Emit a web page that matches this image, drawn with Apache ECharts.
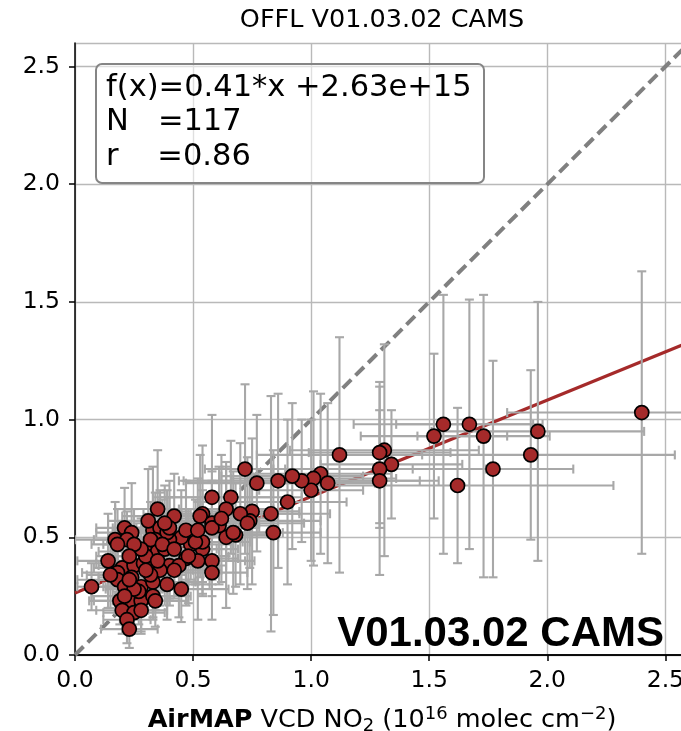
<!DOCTYPE html>
<html>
<head>
<meta charset="utf-8">
<style>
  html, body { margin: 0; padding: 0; background: #fff; }
  #chart { width: 681px; height: 731px; }
</style>
<script src="https://cdn.jsdelivr.net/npm/echarts@6/dist/echarts.min.js"></script>
</head>
<body>
<div id="chart"></div>
<script>
// AirMAP vs TROPOMI OFFL (CAMS) NO2 columns, units 1e16 molec cm-2
const airmapX = [
  2.40, 1.56, 1.67, 1.52, 1.73, 1.96, 1.93, 1.77, 1.62, 1.12,
  1.31, 1.29, 1.34, 1.29, 1.29, 1.04, 1.01, 1.07, 1.00, 0.96,
  0.92, 0.86, 0.90, 0.72, 0.77, 0.84, 0.83, 0.75, 0.74, 0.70,
  0.68, 0.64, 0.66, 0.58, 0.64, 0.54, 0.53, 0.58, 0.61, 0.54,
  0.54, 0.49, 0.45, 0.40, 0.36, 0.47, 0.52, 0.58, 0.58, 0.40,
  0.44, 0.39, 0.45, 0.42, 0.35, 0.21, 0.24, 0.17, 0.22, 0.33,
  0.36, 0.39, 0.34, 0.30, 0.35, 0.38, 0.14, 0.20, 0.25, 0.29,
  0.34, 0.36, 0.42, 0.18, 0.18, 0.24, 0.21, 0.28, 0.33, 0.07,
  0.19, 0.23, 0.28, 0.33, 0.20, 0.25, 0.22, 0.23, 0.32, 0.30,
  0.28, 0.37, 0.31, 0.40, 0.25, 0.32, 0.27, 0.30, 0.48, 0.51,
  0.42, 0.35, 0.23, 0.15, 0.25, 0.21, 0.28, 0.47, 0.58, 0.73,
  0.67, 0.38, 0.18, 0.52, 0.23, 0.34, 0.62
];
const tropomiY = [
  1.03, 0.98, 0.98, 0.93, 0.93, 0.95, 0.85, 0.79, 0.72, 0.85,
  0.87, 0.86, 0.81, 0.79, 0.74, 0.77, 0.75, 0.73, 0.70, 0.74,
  0.76, 0.74, 0.65, 0.79, 0.73, 0.52, 0.60, 0.61, 0.57, 0.60,
  0.51, 0.50, 0.67, 0.67, 0.62, 0.60, 0.59, 0.56, 0.55, 0.45,
  0.48, 0.47, 0.50, 0.49, 0.52, 0.41, 0.40, 0.40, 0.35, 0.38,
  0.38, 0.30, 0.28, 0.59, 0.62, 0.54, 0.52, 0.49, 0.49, 0.53,
  0.54, 0.52, 0.49, 0.44, 0.44, 0.45, 0.40, 0.37, 0.38, 0.39,
  0.39, 0.36, 0.36, 0.35, 0.32, 0.33, 0.29, 0.29, 0.31, 0.29,
  0.23, 0.23, 0.23, 0.25, 0.19, 0.18, 0.15, 0.11, 0.49, 0.42,
  0.45, 0.47, 0.57, 0.54, 0.47, 0.34, 0.27, 0.36, 0.42, 0.48,
  0.45, 0.40, 0.42, 0.34, 0.28, 0.25, 0.19, 0.53, 0.54, 0.56,
  0.52, 0.56, 0.47, 0.53, 0.32, 0.23, 0.58
];
const airmapErr = [
  0.57, 0.38, 0.31, 0.31, 0.28, 0.45, 0.61, 0.34, 0.66, 0.35,
  0.40, 0.30, 0.30, 0.45, 0.25, 0.30, 0.35, 0.20, 0.22, 0.50,
  0.30, 0.42, 0.25, 0.17, 0.30, 0.20, 0.25, 0.20, 0.30, 0.25,
  0.18, 0.22, 0.30, 0.25, 0.20, 0.25, 0.20, 0.20, 0.25, 0.15,
  0.20, 0.18, 0.20, 0.15, 0.20, 0.22, 0.20, 0.18, 0.15, 0.15,
  0.20, 0.18, 0.20, 0.22, 0.18, 0.12, 0.15, 0.17, 0.14, 0.16,
  0.20, 0.12, 0.17, 0.20, 0.15, 0.22, 0.13, 0.12, 0.15, 0.20,
  0.16, 0.14, 0.20, 0.15, 0.17, 0.14, 0.12, 0.16, 0.18, 0.06,
  0.13, 0.15, 0.12, 0.16, 0.11, 0.13, 0.10, 0.12, 0.18, 0.14,
  0.12, 0.16, 0.17, 0.14, 0.13, 0.15, 0.11, 0.13, 0.17, 0.20,
  0.16, 0.12, 0.14, 0.10, 0.12, 0.14, 0.11, 0.19, 0.20, 0.24,
  0.21, 0.13, 0.11, 0.18, 0.13, 0.14, 0.22
];
const tropomiErr = [
  0.60, 0.55, 0.53, 0.35, 0.60, 0.55, 0.36, 0.46, 0.33, 0.50,
  0.45, 0.30, 0.23, 0.25, 0.40, 0.34, 0.37, 0.34, 0.30, 0.26,
  0.31, 0.37, 0.35, 0.36, 0.29, 0.35, 0.50, 0.31, 0.20, 0.30,
  0.22, 0.30, 0.24, 0.35, 0.20, 0.29, 0.26, 0.18, 0.25, 0.20,
  0.22, 0.15, 0.20, 0.25, 0.18, 0.20, 0.25, 0.15, 0.20, 0.17,
  0.22, 0.15, 0.14, 0.18, 0.25, 0.17, 0.21, 0.16, 0.12, 0.27,
  0.15, 0.18, 0.20, 0.12, 0.16, 0.14, 0.20, 0.16, 0.14, 0.18,
  0.20, 0.15, 0.12, 0.12, 0.14, 0.11, 0.16, 0.12, 0.15, 0.10,
  0.10, 0.12, 0.13, 0.10, 0.10, 0.09, 0.10, 0.08, 0.16, 0.17,
  0.13, 0.19, 0.22, 0.13, 0.15, 0.12, 0.14, 0.17, 0.20, 0.18,
  0.15, 0.13, 0.12, 0.14, 0.12, 0.11, 0.10, 0.21, 0.24, 0.28,
  0.26, 0.16, 0.15, 0.22, 0.12, 0.11, 0.27
];

// Linear fit (f(x) = a*x + b, b in 1e16 units) and statistics
const fitSlope = 0.41;
const fitIntercept = 0.263;
const statLines = ['f(x)=0.41*x +2.63e+15', 'N   =117', 'r    =0.86'];
const axisMax = 2.6;
const tickStep = 0.5;

const pointColor = '#a52a2a';
const errColor = '#a8a8a8';

const chart = echarts.init(document.getElementById('chart'), null, { renderer: 'canvas' });

const errData = airmapX.map((x, i) => [x, tropomiY[i], airmapErr[i], tropomiErr[i]]);
const scatterData = airmapX.map((x, i) => [x, tropomiY[i]]);

function renderErrorBar(params, api) {
  const x = api.value(0), y = api.value(1);
  const ex = api.value(2), ey = api.value(3);
  const c = api.coord([x, y]);
  const l = api.coord([x - ex, y]);
  const r = api.coord([x + ex, y]);
  const t = api.coord([x, y + ey]);
  const b = api.coord([x, y - ey]);
  const cap = 4.5;
  const style = { stroke: errColor, lineWidth: 2.1, fill: null };
  const seg = (x1, y1, x2, y2) => ({ type: 'line', shape: { x1, y1, x2, y2 }, style });
  return {
    type: 'group',
    children: [
      seg(l[0], c[1], r[0], c[1]),
      seg(c[0], t[1], c[0], b[1]),
      seg(l[0], c[1] - cap, l[0], c[1] + cap),
      seg(r[0], c[1] - cap, r[0], c[1] + cap),
      seg(c[0] - cap, t[1], c[0] + cap, t[1]),
      seg(c[0] - cap, b[1], c[0] + cap, b[1])
    ]
  };
}

const tickFont = { fontFamily: 'DejaVu Sans', fontSize: 23.5, color: '#000' };

const option = {
  animation: false,
  backgroundColor: '#fff',
  grid: { left: 75, top: 43, right: -8, bottom: 76, containLabel: false, outerBoundsMode: 'none' },
  xAxis: [{
    type: 'value', min: 0, max: axisMax, interval: tickStep,
    axisLine: { show: true, onZero: false, lineStyle: { color: '#000', width: 1.5 } },
    axisTick: { show: true, length: 6, lineStyle: { color: '#000', width: 1.5 } },
    axisLabel: Object.assign({ margin: 14, formatter: v => v.toFixed(1), showMaxLabel: false }, tickFont),
    splitLine: { show: true, lineStyle: { color: '#b9b9b9', width: 1.4 } },
    name: '{b|AirMAP} VCD NO{sub|2} (10{sup|16} molec cm{sup|\u22122})',
    nameLocation: 'middle',
    nameGap: 50,
    nameTextStyle: {
      fontFamily: 'DejaVu Sans', fontSize: 25.5, color: '#000',
      rich: {
        b: { fontFamily: 'DejaVu Sans', fontWeight: 'bold', fontSize: 25.5, color: '#000' },
        sub: { fontFamily: 'DejaVu Sans', fontSize: 18, color: '#000', padding: [12, 0, 0, 0] },
        sup: { fontFamily: 'DejaVu Sans', fontSize: 18, color: '#000', padding: [0, 0, 12, 0] }
      }
    }
  }, {
    type: 'value', min: 0, max: axisMax, position: 'top',
    axisLine: { show: true, lineStyle: { color: '#000', width: 1.5 } },
    axisTick: { show: false }, axisLabel: { show: false }, splitLine: { show: false }
  }],
  yAxis: {
    type: 'value', min: 0, max: axisMax, interval: tickStep,
    axisLine: { show: true, onZero: false, lineStyle: { color: '#000', width: 1.5 } },
    axisTick: { show: true, length: 6, lineStyle: { color: '#000', width: 1.5 } },
    axisLabel: Object.assign({ margin: 15, formatter: v => v.toFixed(1), showMaxLabel: false }, tickFont),
    splitLine: { show: true, lineStyle: { color: '#b9b9b9', width: 1.4 } }
  },
  series: [
    {
      name: '1:1', type: 'line', silent: true, symbol: 'none', z: 2,
      data: [[0, 0], [axisMax, axisMax]],
      lineStyle: { color: '#808080', width: 4, type: [12, 6] }
    },
    {
      name: 'fit', type: 'line', silent: true, symbol: 'none', z: 2,
      data: [[0, fitIntercept], [axisMax, fitSlope * axisMax + fitIntercept]],
      lineStyle: { color: pointColor, width: 3.2 }
    },
    {
      name: 'errors', type: 'custom', z: 3, clip: true,
      renderItem: renderErrorBar,
      data: errData
    },
    {
      name: 'points', type: 'scatter', z: 4,
      symbolSize: 14,
      itemStyle: { color: pointColor, borderColor: '#000', borderWidth: 1.7, opacity: 1 },
      data: scatterData
    }
  ],
  graphic: [
    {
      type: 'text', x: 382, y: 7,
      style: { text: 'OFFL V01.03.02 CAMS', font: '25.5px "DejaVu Sans"', fill: '#000', textAlign: 'center' }
    },
    {
      type: 'rect', z: 10,
      shape: { x: 96, y: 64, width: 388, height: 119, r: 6 },
      style: { fill: 'rgba(255,255,255,0.55)', stroke: '#858585', lineWidth: 2 }
    },
    {
      type: 'text', z: 11, x: 106, y: 71,
      style: { text: statLines.join('\n'), font: '30.5px "DejaVu Sans"', lineHeight: 34.3, fill: '#000' }
    },
    {
      type: 'text', z: 11, x: 664, y: 655,
      style: { text: 'V01.03.02 CAMS', font: 'bold 42px "Liberation Sans"', fill: '#000', textAlign: 'right', textVerticalAlign: 'bottom' }
    }
  ]
};

chart.setOption(option);
</script>
</body>
</html>
